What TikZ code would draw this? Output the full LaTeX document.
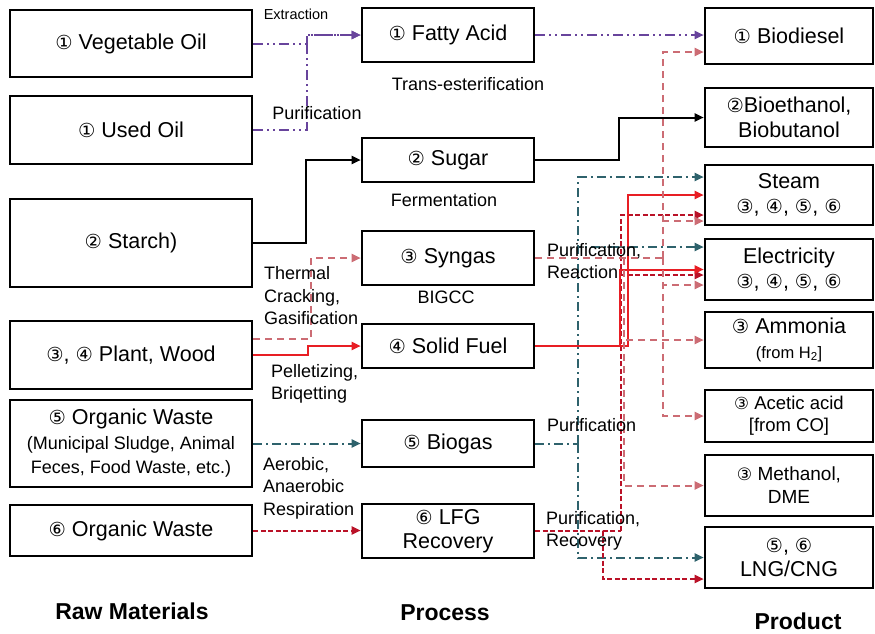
\documentclass[tikz,border=0pt]{standalone}
\usepackage{fontspec}
\setmainfont{Liberation Sans}
\newfontfamily\circfont[Scale=0.9]{DejaVu Sans}
\usepackage{tikz}
\usetikzlibrary{arrows.meta,positioning}
\definecolor{oilpurple}{RGB}{104,68,156}
\definecolor{synpink}{RGB}{204,108,116}
\definecolor{fuelred}{RGB}{232,30,36}
\definecolor{lfgred}{RGB}{186,18,40}
\definecolor{gasteal}{RGB}{46,98,108}
\newcommand{\cn}[1]{{\circfont #1}}
\newcommand{\subfont}{\fontsize{18}{22}\selectfont}

\begin{document}
\begin{tikzpicture}[
    x=1pt, y=-1pt,
    box/.style={rectangle, draw=black, line width=2.6pt, text centered, align=center, inner sep=2pt, font=\fontsize{21.5}{24.5}\selectfont},
    rawbox/.style={box, minimum width=242pt},
    procbox/.style={box, minimum width=172pt},
    prodbox/.style={box, minimum width=168pt},
    lbl/.style={inner sep=0pt, align=left, font=\fontsize{18}{22.5}\selectfont},
    head/.style={inner sep=0pt, font=\fontsize{23}{27}\selectfont\bfseries},
    arrow/.style={-{Triangle[length=9pt,width=8pt]}, line width=2pt},
    oil/.style={arrow, draw=oilpurple, dash pattern=on 10pt off 4pt on 2pt off 4pt on 2pt off 4pt},
    syn/.style={arrow, draw=synpink, dash pattern=on 7pt off 5pt},
    fuel/.style={arrow, draw=fuelred},
    gas/.style={arrow, draw=gasteal, dash pattern=on 9pt off 4pt on 2pt off 4pt},
    lfgline/.style={arrow, draw=lfgred, dash pattern=on 5pt off 2.5pt}
]
    \useasboundingbox (0,0) rectangle (875,633);

    % raw materials
    \node[rawbox, minimum height=67pt] (vegoil) at (131,43.5) {\cn{①} Vegetable Oil};
    \node[rawbox, minimum height=68pt] (usedoil) at (131,130) {\cn{①} Used Oil};
    \node[rawbox, minimum height=88pt] (starch) at (131,243) {\cn{②} Starch)};
    \node[rawbox, minimum height=68pt] (plant) at (131,355) {\cn{③}, \cn{④} Plant, Wood};
    \node[rawbox, minimum height=87pt] (waste) at (131,443.5) {\cn{⑤} Organic Waste\\ {\subfont (Municipal Sludge, Animal}\\ {\subfont Feces, Food Waste, etc.)}};
    \node[rawbox, minimum height=51pt] (landfill) at (131,530.5) {\cn{⑥} Organic Waste};

    % process
    \node[procbox, minimum height=54pt] (fatty) at (448,35) {\cn{①} Fatty Acid};
    \node[procbox, minimum height=44pt] (sugar) at (448,160) {\cn{②} Sugar};
    \node[procbox, minimum height=54pt] (syngas) at (448,258) {\cn{③} Syngas};
    \node[procbox, minimum height=44pt] (solid) at (448,346) {\cn{④} Solid Fuel};
    \node[procbox, minimum height=47pt] (biogas) at (448,443.5) {\cn{⑤} Biogas};
    \node[procbox, minimum height=54pt] (lfg) at (448,531) {\cn{⑥} LFG\\Recovery};

    % products
    \node[prodbox, minimum height=56pt] (biodiesel) at (789,36) {\cn{①} Biodiesel};
    \node[prodbox, minimum height=59pt] (ethanol) at (789,117.5) {\cn{②}Bioethanol,\\Biobutanol};
    \node[prodbox, minimum height=60pt] (steam) at (789,195) {Steam\\\cn{③}, \cn{④}, \cn{⑤}, \cn{⑥}};
    \node[prodbox, minimum height=61pt] (power) at (789,269.5) {Electricity\\\cn{③}, \cn{④}, \cn{⑤}, \cn{⑥}};
    \node[prodbox, minimum height=56pt] (ammonia) at (789,340) {\cn{③} Ammonia\\{\fontsize{16.5}{20}\selectfont (from H\textsubscript{2}]}};
    \node[prodbox, minimum height=52pt, font=\fontsize{18.5}{22}\selectfont] (acetic) at (789,416) {\cn{③} Acetic acid\\{[}from CO{]}};
    \node[prodbox, minimum height=61pt, font=\fontsize{19}{23}\selectfont] (methanol) at (789,485.5) {\cn{③} Methanol,\\DME};
    \node[prodbox, minimum height=61pt] (lng) at (789,557.5) {\cn{⑤}, \cn{⑥}\\LNG/CNG};

    % raw -> process
    \draw[oil] (vegoil.east) -- ++(54,0) |- (fatty.west);
    \draw[oil] (usedoil.east) -- ++(54,0) |- (fatty.west);
    \draw[arrow] (starch.east) -- ++(53,0) |- (sugar.west);
    \draw[syn] ([yshift=16pt]plant.east) -- ++(58,0) |- (syngas.west);
    \draw[fuel] (plant.east) -- ++(55,0) |- (solid.west);
    \draw[gas] (waste.east) -- (biogas.west);
    \draw[lfgline] (landfill.east) -- (landfill.east -| lfg.west);

    % process -> product
    \draw[oil] (fatty.east) -- (fatty.east -| biodiesel.west);
    \draw[arrow] (sugar.east) -- ++(84,0) |- (ethanol.west);

    \coordinate (gasbus) at ([xshift=43pt]biogas.east);
    \draw[gas, -] (biogas.east) -- (gasbus);
    \draw[gas] (gasbus) |- ([yshift=18pt]steam.west);
    \draw[gas] (gasbus) |- ([yshift=22.5pt]power.west);
    \draw[gas] (gasbus) |- (lng.west);

    \coordinate (lfgbus) at ([xshift=86pt]lfg.east);
    \draw[lfgline, -] (lfg.east) -- (lfgbus);
    \draw[lfgline] (lfgbus) |- ([yshift=-20pt]steam.west);
    \draw[lfgline] (lfgbus) |- ([yshift=-5.5pt]power.west);
    \draw[lfgline] (lfg.east) -- ++(68,0) |- ([yshift=-21.5pt]lng.west);

    \draw[fuel] (solid.east) -- ++(85,0) |- (power.west);
    \draw[fuel] (solid.east) -- ++(93,0) |- (steam.west);

    \coordinate (synbus) at ([xshift=128pt]syngas.east);
    \coordinate (synmid) at ([xshift=89pt]syngas.east);
    \draw[syn, -] (syngas.east) -- (synbus);
    \draw[syn] (synbus) |- ([yshift=-16pt]biodiesel.west);
    \draw[syn] (synbus) |- ([yshift=-26pt]steam.west);
    \draw[syn] (synbus) |- ([yshift=-15.5pt]power.west);
    \draw[syn] (synbus) |- (acetic.west);
    \draw[syn] (synmid) |- (ammonia.west);
    \draw[syn] (synmid) |- (methanol.west);

    % process labels
    \node[lbl, font=\fontsize{14.5}{17}\selectfont] (extract) at (296,14) {Extraction};
    \node[lbl] (transest) at (468,84) {Trans-esterification};
    \node[lbl] (purify) at (317,113) {Purification};
    \node[lbl] (ferment) at (444,200) {Fermentation};
    \node[lbl, anchor=west] (thermal) at (264,296) {Thermal\\Cracking,\\Gasification};
    \node[lbl] (bigcc) at (446,297) {BIGCC};
    \node[lbl, anchor=west] (pellet) at (271,384) {Pelletizing,\\Briqetting};
    \node[lbl, anchor=west] (respire) at (263,488) {Aerobic,\\Anaerobic\\Respiration};
    \node[lbl, anchor=west] (synpur) at (547,261) {Purification,\\Reaction};
    \node[lbl, anchor=west] (gaspur) at (547,425) {Purification};
    \node[lbl, anchor=west] (lfgpur) at (546,531) {Purification,\\Recovery};

    % column heads
    \node[head] (rawhead) at (132,611) {Raw Materials};
    \node[head] (prochead) at (445,613) {Process};
    \node[head] (prodhead) at (798,621) {Product};
\end{tikzpicture}
\end{document}
